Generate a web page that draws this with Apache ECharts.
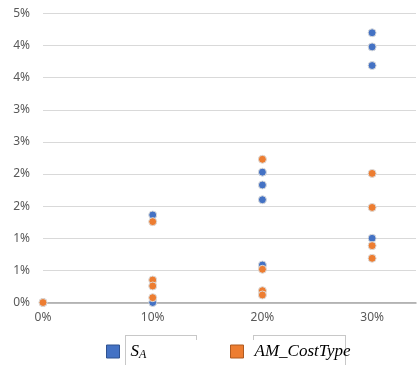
<!DOCTYPE html>
<html>
<head>
<meta charset="utf-8">
<script src="https://cdn.jsdelivr.net/npm/echarts@6/dist/echarts.min.js"></script>
<style>
html,body{margin:0;padding:0;background:#fff;}
#c{width:419px;height:365px;}
</style>
</head>
<body>
<div id="c"></div>
<script>
// Data
var saX = [0, 0.1, 0.1, 0.2, 0.2, 0.2, 0.2, 0.3, 0.3, 0.3, 0.3];
var saY = [0, 0.01363, 0, 0.0203, 0.0183, 0.0160, 0.00584, 0.0420, 0.0398, 0.0369, 0.0100];
var amX = [0, 0.1, 0.1, 0.1, 0.1, 0.2, 0.2, 0.2, 0.2, 0.3, 0.3, 0.3, 0.3];
var amY = [0, 0.01259, 0.0035, 0.00257, 0.00075, 0.0223, 0.00517, 0.00184, 0.00117, 0.0201, 0.0148, 0.00885, 0.00688];
var seriesNames = ['S_A', 'AM_CostType'];
var colors = ['#4472C4', '#ED7D31'];
var borderColors = ['#2F528F', '#AE5A21'];

function pairs(xs, ys){ return xs.map(function(x,i){ return [x, ys[i]]; }); }

var chart = echarts.init(document.getElementById('c'));
var lineStyle = {stroke:'#c8c8c8', lineWidth:1};
var richLegend = {
  gap: {width: 6},
  i: {fontFamily:'Liberation Serif', fontStyle:'italic', fontSize:17, color:'#000'},
  sub: {fontFamily:'Liberation Serif', fontStyle:'italic', fontSize:12, color:'#000', verticalAlign:'bottom', padding:[7,0,0,0]}
};
chart.setOption({
  animation: false,
  grid: {left: 43, right: 3, top: 13.5, bottom: 62.5, containLabel: false},
  xAxis: {
    type: 'value', min: 0, max: 0.34, interval: 0.1,
    axisLine: {show: true, lineStyle: {color: '#a6a6a6', width: 1.5}},
    axisTick: {show: false},
    splitLine: {show: false},
    axisLabel: {
      color: '#595959', fontFamily: 'Noto Sans', fontSize: 12, margin: 9, showMaxLabel: false,
      formatter: function(v){ return Math.round(v*100) + '%'; }
    }
  },
  yAxis: {
    type: 'value', min: 0, max: 0.045, interval: 0.005,
    axisLine: {show: false},
    axisTick: {show: false},
    splitLine: {show: true, lineStyle: {color: '#d9d9d9', width: 1}},
    axisLabel: {
      color: '#595959', fontFamily: 'Noto Sans', fontSize: 12, margin: 13,
      formatter: function(v){ return Math.round(v*100) + '%'; }
    }
  },
  legend: [
    {
      left: 101, top: 338, icon: 'rect', itemWidth: 13, itemHeight: 13, itemGap: 6,
      data: [{name: seriesNames[0], itemStyle: {color: colors[0], borderColor: borderColors[0], borderWidth: 1}}],
      formatter: function(){ return '{gap|}{i|S}{sub|A}'; },
      textStyle: {rich: richLegend}
    },
    {
      left: 225, top: 338, icon: 'rect', itemWidth: 13, itemHeight: 13,
      data: [{name: seriesNames[1], itemStyle: {color: colors[1], borderColor: borderColors[1], borderWidth: 1}}],
      formatter: function(){ return '{gap|}{i|AM_CostType}'; },
      textStyle: {rich: richLegend}
    }
  ],
  graphic: [
    {type:'line', shape:{x1:125, y1:335.5, x2:196, y2:335.5}, style:lineStyle, silent:true},
    {type:'line', shape:{x1:125.5, y1:335, x2:125.5, y2:365}, style:lineStyle, silent:true},
    {type:'line', shape:{x1:196.5, y1:335, x2:196.5, y2:340}, style:lineStyle, silent:true},
    {type:'line', shape:{x1:253, y1:335.5, x2:345, y2:335.5}, style:lineStyle, silent:true},
    {type:'line', shape:{x1:253.5, y1:335, x2:253.5, y2:340}, style:lineStyle, silent:true},
    {type:'line', shape:{x1:345.5, y1:335, x2:345.5, y2:365}, style:lineStyle, silent:true}
  ],
  series: [
    {
      name: seriesNames[0], type: 'scatter', symbol: 'circle', symbolSize: 8,
      itemStyle: {color: colors[0], borderColor: '#dcdcdc', borderWidth: 1, opacity: 1},
      data: pairs(saX, saY)
    },
    {
      name: seriesNames[1], type: 'scatter', symbol: 'circle', symbolSize: 8,
      itemStyle: {color: colors[1], borderColor: '#dcdcdc', borderWidth: 1, opacity: 1},
      data: pairs(amX, amY)
    }
  ]
});
</script>
</body>
</html>
